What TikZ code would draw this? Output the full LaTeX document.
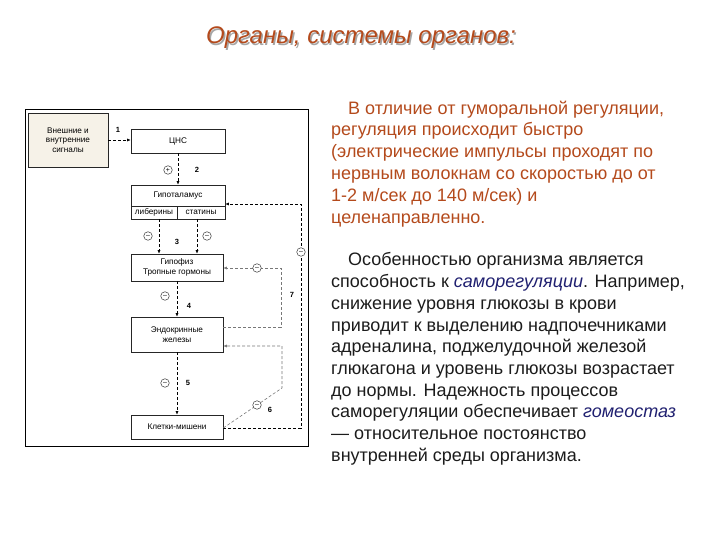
\documentclass[tikz,border=0pt]{standalone}
\usepackage{fontspec}
\setmainfont{Liberation Sans}
\usetikzlibrary{arrows.meta}
\definecolor{rust}{RGB}{180,74,28}
\definecolor{navyi}{RGB}{32,32,112}
\definecolor{bodyk}{RGB}{28,28,28}
\definecolor{beig}{RGB}{246,242,232}
\definecolor{fbgray}{RGB}{120,120,120}
\tikzset{
  blk/.style={draw=black!85, line width=0.6pt, fill=white, inner sep=0pt, align=center, font=\fontsize{8.2}{9.5}\selectfont},
  fb/.style={densely dashed, line width=0.6pt, black, -{Latex[length=3.5pt,width=3pt]}},
  fbg/.style={densely dashed, line width=0.6pt, fbgray, -{Latex[length=3.5pt,width=3pt]}},
  sgn/.style={circle, draw=black!80, line width=0.5pt, fill=white, minimum size=8.5pt, inner sep=0pt, font=\fontsize{7}{7}\selectfont},
  num/.style={font=\fontsize{7.5}{8}\selectfont\bfseries, inner sep=0pt},
  para/.style={anchor=north west, align=left, inner sep=0pt, font=\fontsize{18}{21.9}\selectfont}
}
\begin{document}
\begin{tikzpicture}[x=1pt,y=-1pt]
\useasboundingbox (0,0) rectangle (720,540);
% title (with its shadow)
\node[font=\fontsize{24}{26}\selectfont\itshape, text=black!35] (titlesh) at (362.5,39.5) {Органы, системы органов:};
\node[font=\fontsize{24}{26}\selectfont\itshape, text=rust] (title) at (361,38) {Органы, системы органов:};
% frame
\node[draw=black, line width=1pt, minimum width=283pt, minimum height=336pt, inner sep=0pt] (frame) at (166.5,278) {};
% boxes
\node[blk, fill=beig, minimum width=80pt, minimum height=54pt] (sig) at (68,140) {Внешние и\\внутренние\\сигналы};
\node[blk, minimum width=94pt, minimum height=24pt] (cns) at (178,141) {ЦНС};
\node[blk, minimum width=94pt, minimum height=21pt] (hyp) at (178,195.5) {Гипоталамус};
\node[blk, minimum width=46pt, minimum height=13pt] (lib) at (154,212.5) {либерины};
\node[blk, minimum width=48pt, minimum height=13pt] (stat) at (201,212.5) {статины};
\node[blk, minimum width=92pt, minimum height=27pt] (gipo) at (177,267.5) {Гипофиз\\Тропные гормоны};
\node[blk, minimum width=92pt, minimum height=35pt] (endo) at (177,334.5) {Эндокринные\\железы};
\node[blk, minimum width=92pt, minimum height=24pt] (cells) at (177,427) {Клетки-мишени};
% coordinates
\coordinate (c7a) at (301,428);
\coordinate (c7b) at (301,204);
\coordinate (c6a) at (282,388);
\coordinate (c6b) at (282,346);
\coordinate (e2) at (281,327);
\coordinate (e3) at (281,268);
\coordinate (l3) at (159,219);
\coordinate (s3) at (197,219);
% main arrows
\draw[fb] (sig.east) -- (sig.east -| cns.west);
\draw[fb] (cns.south) -- (hyp.north);
\draw[fb] (l3) -- (l3 |- gipo.north);
\draw[fb] (s3) -- (s3 |- gipo.north);
\draw[fb] (gipo.south) -- (endo.north);
\draw[fb] (endo.south) -- (cells.north);
% feedback loops
\draw[fb] (cells.east |- c7a) -- (c7a) -- (c7b) -- (c7b -| hyp.east);
\draw[fbg] (cells.east |- c7a) -- (c6a) -- (c6b) -- (c6b -| endo.east);
\draw[fbg] (e2 -| endo.east) -- (e2) -- (e3) -- (e3 -| gipo.east);
% signs
\node[sgn] (p2) at (168,170) {+};
\node[sgn] (m3a) at (148,236) {--};
\node[sgn] (m3b) at (207,236) {--};
\node[sgn] (m4) at (165,296) {--};
\node[sgn] (m5) at (165,383) {--};
\node[sgn] (m7) at (301,252) {--};
\node[sgn] (mE) at (257,268) {--};
\node[sgn] (m6) at (257,405) {--};
% numbers
\node[num] (n1) at (118,130) {1};
\node[num] (n2) at (197,170) {2};
\node[num] (n3) at (177,242) {3};
\node[num] (n4) at (189,306) {4};
\node[num] (n5) at (188,383) {5};
\node[num] (n6) at (270,410) {6};
\node[num] (n7) at (292,295) {7};
% text
\node[para, text=rust] (p1) at (331,100.5) {\hspace*{17pt}В отличие от гуморальной регуляции,\\
регуляция происходит быстро\\
(электрические импульсы проходят по\\
нервным волокнам со скоростью до от\\
1-2 м/сек до 140 м/сек) и\\
целенаправленно.};
\node[para, text=bodyk, font=\fontsize{18}{21.7}\selectfont] (p2t) at (331,252.5) {\hspace*{17pt}Особенностью организма является\\
способность к \textcolor{navyi}{\itshape саморегуляции}. Например,\\
снижение уровня глюкозы в крови\\
приводит к выделению надпочечниками\\
адреналина, поджелудочной железой\\
глюкагона и уровень глюкозы возрастает\\
до нормы. Надежность процессов\\
саморегуляции обеспечивает \textcolor{navyi}{\itshape гомеостаз}\\
— относительное постоянство\\
внутренней среды организма.};
\end{tikzpicture}
\end{document}
